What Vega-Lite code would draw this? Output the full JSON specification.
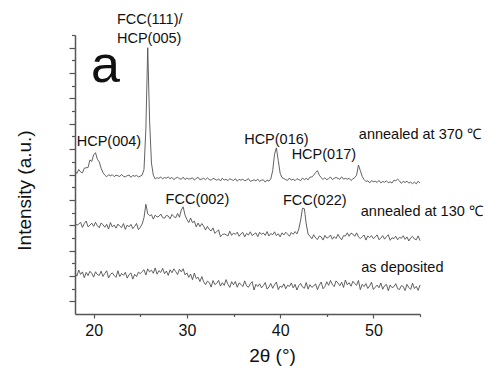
{
"$schema":"https://vega.github.io/schema/vega-lite/v6.json",
"width":345,"height":279,
"autosize":"none",
"padding":{"left":75,"top":35,"right":67,"bottom":52},
"background":"white",
"config":{"view":{"stroke":null},"font":"Liberation Sans","axis":{"grid":false,"domainColor":"#555","tickColor":"#555","domainWidth":1.5,"tickWidth":1.2,"labelColor":"#111","titleColor":"#111","titleFontWeight":"normal"}},
"datasets":{
"xrd":[
{"x":18.0,"a":11.28,"b":7.19,"c":3.20},{"x":18.2,"a":11.08,"b":7.00,"c":2.99},{"x":18.4,"a":11.40,"b":7.09,"c":3.47},{"x":18.6,"a":11.20,"b":7.23,"c":3.12},{"x":18.8,"a":11.13,"b":6.83,"c":3.32},
{"x":19.0,"a":11.50,"b":7.13,"c":2.86},{"x":19.2,"a":11.53,"b":7.33,"c":3.28},{"x":19.4,"a":11.55,"b":6.87,"c":3.03},{"x":19.6,"a":12.15,"b":7.01,"c":3.37},{"x":19.8,"a":12.03,"b":7.16,"c":3.20},
{"x":20.0,"a":12.55,"b":6.91,"c":2.91},{"x":20.2,"a":12.72,"b":7.23,"c":3.33},{"x":20.4,"a":12.20,"b":6.96,"c":3.11},{"x":20.6,"a":12.00,"b":6.80,"c":3.04},{"x":20.8,"a":11.50,"b":7.18,"c":3.38},
{"x":21.0,"a":11.15,"b":7.03,"c":2.96},{"x":21.2,"a":10.95,"b":6.84,"c":3.20},{"x":21.4,"a":10.82,"b":7.07,"c":3.41},{"x":21.6,"a":10.98,"b":6.70,"c":2.84},{"x":21.8,"a":10.90,"b":7.21,"c":3.12},
{"x":22.0,"a":10.98,"b":6.87,"c":3.25},{"x":22.2,"a":10.83,"b":7.01,"c":3.04},{"x":22.4,"a":10.95,"b":6.77,"c":2.89},{"x":22.6,"a":10.90,"b":7.09,"c":3.41},{"x":22.8,"a":10.84,"b":6.93,"c":2.95},
{"x":23.0,"a":11.00,"b":6.81,"c":3.20},{"x":23.2,"a":10.85,"b":7.13,"c":3.05},{"x":23.4,"a":10.82,"b":6.67,"c":3.29},{"x":23.6,"a":10.91,"b":7.02,"c":2.83},{"x":23.8,"a":10.96,"b":6.87,"c":3.11},
{"x":24.0,"a":10.77,"b":7.07,"c":3.24},{"x":24.2,"a":10.93,"b":6.73,"c":2.75},{"x":24.4,"a":10.86,"b":6.91,"c":3.13},{"x":24.6,"a":10.93,"b":7.14,"c":2.95},{"x":24.8,"a":10.81,"b":6.65,"c":3.30},
{"x":25.0,"a":10.87,"b":6.84,"c":3.18},{"x":25.2,"a":10.95,"b":7.09,"c":3.35},{"x":25.4,"a":11.40,"b":7.60,"c":3.49},{"x":25.6,"a":14.60,"b":8.65,"c":3.07},{"x":25.8,"a":21.00,"b":7.90,"c":3.56},
{"x":26.0,"a":15.20,"b":7.75,"c":3.32},{"x":26.2,"a":11.90,"b":7.83,"c":3.46},{"x":26.4,"a":10.95,"b":7.48,"c":3.21},{"x":26.6,"a":10.65,"b":7.80,"c":3.63},{"x":26.8,"a":10.75,"b":7.65,"c":3.14},
{"x":27.0,"a":10.70,"b":7.70,"c":3.42},{"x":27.2,"a":10.80,"b":7.88,"c":3.28},{"x":27.4,"a":10.66,"b":7.60,"c":3.60},{"x":27.6,"a":10.76,"b":7.55,"c":3.18},{"x":27.8,"a":10.71,"b":7.78,"c":3.39},
{"x":28.0,"a":10.81,"b":7.73,"c":3.04},{"x":28.2,"a":10.67,"b":7.50,"c":3.49},{"x":28.4,"a":10.77,"b":7.85,"c":3.25},{"x":28.6,"a":10.59,"b":7.68,"c":3.56},{"x":28.8,"a":10.72,"b":7.58,"c":3.35},
{"x":29.0,"a":10.78,"b":7.93,"c":3.11},{"x":29.2,"a":10.67,"b":7.63,"c":3.53},{"x":29.4,"a":10.63,"b":8.20,"c":3.32},{"x":29.6,"a":10.79,"b":8.45,"c":3.57},{"x":29.8,"a":10.60,"b":7.80,"c":3.09},
{"x":30.0,"a":10.72,"b":7.45,"c":3.24},{"x":30.2,"a":10.64,"b":7.21,"c":2.89},{"x":30.4,"a":10.67,"b":7.57,"c":3.15},{"x":30.6,"a":10.74,"b":7.20,"c":2.70},{"x":30.8,"a":10.56,"b":7.32,"c":3.23},
{"x":31.0,"a":10.69,"b":6.87,"c":2.79},{"x":31.2,"a":10.78,"b":7.17,"c":2.90},{"x":31.4,"a":10.58,"b":6.89,"c":2.56},{"x":31.6,"a":10.64,"b":7.13,"c":2.95},{"x":31.8,"a":10.70,"b":6.92,"c":2.54},
{"x":32.0,"a":10.59,"b":6.62,"c":2.31},{"x":32.2,"a":10.73,"b":6.91,"c":2.59},{"x":32.4,"a":10.61,"b":6.67,"c":2.48},{"x":32.6,"a":10.54,"b":6.55,"c":2.12},{"x":32.8,"a":10.70,"b":6.79,"c":2.64},
{"x":33.0,"a":10.64,"b":6.36,"c":2.32},{"x":33.2,"a":10.55,"b":6.51,"c":2.42},{"x":33.4,"a":10.65,"b":6.63,"c":2.66},{"x":33.6,"a":10.49,"b":6.09,"c":2.20},{"x":33.8,"a":10.71,"b":6.26,"c":2.47},
{"x":34.0,"a":10.56,"b":6.32,"c":2.26},{"x":34.2,"a":10.62,"b":6.25,"c":2.71},{"x":34.4,"a":10.52,"b":6.15,"c":2.35},{"x":34.6,"a":10.66,"b":6.53,"c":2.10},{"x":34.8,"a":10.59,"b":6.20,"c":2.55},
{"x":35.0,"a":10.53,"b":6.38,"c":2.30},{"x":35.2,"a":10.67,"b":6.28,"c":2.57},{"x":35.4,"a":10.47,"b":6.45,"c":2.11},{"x":35.6,"a":10.62,"b":6.13,"c":2.45},{"x":35.8,"a":10.55,"b":6.33,"c":2.34},
{"x":36.0,"a":10.64,"b":6.43,"c":2.16},{"x":36.2,"a":10.49,"b":6.08,"c":2.61},{"x":36.4,"a":10.57,"b":6.35,"c":2.22},{"x":36.6,"a":10.67,"b":6.23,"c":2.11},{"x":36.8,"a":10.46,"b":6.48,"c":2.38},
{"x":37.0,"a":10.52,"b":6.18,"c":2.55},{"x":37.2,"a":10.58,"b":6.30,"c":1.89},{"x":37.4,"a":10.50,"b":6.40,"c":2.34},{"x":37.6,"a":10.63,"b":6.10,"c":2.17},{"x":37.8,"a":10.45,"b":6.45,"c":2.38},
{"x":38.0,"a":10.55,"b":6.28,"c":2.06},{"x":38.2,"a":10.58,"b":6.38,"c":2.24},{"x":38.4,"a":10.40,"b":6.20,"c":2.48},{"x":38.6,"a":10.56,"b":6.50,"c":1.96},{"x":38.8,"a":10.48,"b":6.15,"c":2.13},
{"x":39.0,"a":10.65,"b":6.35,"c":2.41},{"x":39.2,"a":11.30,"b":6.25,"c":2.03},{"x":39.4,"a":12.60,"b":6.48,"c":2.31},{"x":39.6,"a":13.10,"b":6.18,"c":2.52},{"x":39.8,"a":12.10,"b":6.33,"c":1.92},
{"x":40.0,"a":11.10,"b":6.08,"c":2.20},{"x":40.2,"a":10.75,"b":6.40,"c":2.10},{"x":40.4,"a":10.68,"b":6.23,"c":2.38},{"x":40.6,"a":10.59,"b":6.45,"c":1.99},{"x":40.8,"a":10.54,"b":6.30,"c":2.27},
{"x":41.0,"a":10.72,"b":6.13,"c":2.17},{"x":41.2,"a":10.56,"b":6.43,"c":2.45},{"x":41.4,"a":10.63,"b":6.28,"c":2.06},{"x":41.6,"a":10.51,"b":6.50,"c":2.34},{"x":41.8,"a":10.67,"b":6.32,"c":1.89},
{"x":42.0,"a":10.60,"b":6.70,"c":2.24},{"x":42.2,"a":10.52,"b":7.40,"c":2.41},{"x":42.4,"a":10.72,"b":8.35,"c":2.13},{"x":42.6,"a":10.59,"b":8.30,"c":2.03},{"x":42.8,"a":10.70,"b":7.10,"c":2.48},
{"x":43.0,"a":10.58,"b":6.30,"c":1.96},{"x":43.2,"a":10.79,"b":6.13,"c":2.31},{"x":43.4,"a":10.80,"b":5.93,"c":2.10},{"x":43.6,"a":10.95,"b":6.25,"c":2.20},{"x":43.8,"a":11.15,"b":6.00,"c":2.38},
{"x":44.0,"a":11.30,"b":5.88,"c":1.92},{"x":44.2,"a":10.95,"b":6.15,"c":2.27},{"x":44.4,"a":10.75,"b":6.08,"c":2.52},{"x":44.6,"a":10.61,"b":5.83,"c":1.99},{"x":44.8,"a":10.74,"b":6.20,"c":2.17},
{"x":45.0,"a":10.59,"b":5.98,"c":2.54},{"x":45.2,"a":10.68,"b":6.05,"c":2.26},{"x":45.4,"a":10.80,"b":6.23,"c":2.65},{"x":45.6,"a":10.60,"b":5.90,"c":2.33},{"x":45.8,"a":10.70,"b":6.10,"c":2.16},
{"x":46.0,"a":10.77,"b":5.95,"c":2.61},{"x":46.2,"a":10.69,"b":6.28,"c":2.44},{"x":46.4,"a":10.62,"b":6.03,"c":2.23},{"x":46.6,"a":10.82,"b":5.85,"c":2.51},{"x":46.8,"a":10.63,"b":6.18,"c":2.09},
{"x":47.0,"a":10.70,"b":6.15,"c":2.68},{"x":47.2,"a":10.63,"b":6.40,"c":2.30},{"x":47.4,"a":10.70,"b":6.13,"c":2.47},{"x":47.6,"a":10.53,"b":6.38,"c":2.19},{"x":47.8,"a":10.65,"b":6.30,"c":2.58},
{"x":48.0,"a":10.75,"b":6.13,"c":2.40},{"x":48.2,"a":10.95,"b":6.40,"c":2.26},{"x":48.4,"a":11.75,"b":6.08,"c":2.65},{"x":48.6,"a":11.30,"b":5.95,"c":1.92},{"x":48.8,"a":10.85,"b":6.10,"c":2.34},
{"x":49.0,"a":10.60,"b":6.23,"c":2.16},{"x":49.2,"a":10.45,"b":5.83,"c":2.40},{"x":49.4,"a":10.50,"b":6.15,"c":2.01},{"x":49.6,"a":10.34,"b":6.03,"c":2.22},{"x":49.8,"a":10.52,"b":6.18,"c":2.50},
{"x":50.0,"a":10.43,"b":5.94,"c":1.93},{"x":50.2,"a":10.47,"b":6.07,"c":2.11},{"x":50.4,"a":10.38,"b":6.24,"c":2.28},{"x":50.6,"a":10.53,"b":5.86,"c":2.07},{"x":50.8,"a":10.34,"b":5.98,"c":2.45},
{"x":51.0,"a":10.45,"b":6.18,"c":1.95},{"x":51.2,"a":10.39,"b":5.90,"c":2.23},{"x":51.4,"a":10.50,"b":6.10,"c":2.33},{"x":51.6,"a":10.35,"b":6.25,"c":1.84},{"x":51.8,"a":10.42,"b":5.81,"c":2.29},
{"x":52.0,"a":10.33,"b":6.01,"c":2.08},{"x":52.2,"a":10.55,"b":5.94,"c":2.15},{"x":52.4,"a":10.51,"b":6.13,"c":2.39},{"x":52.6,"a":10.63,"b":5.85,"c":2.00},{"x":52.8,"a":10.50,"b":6.05,"c":1.93},
{"x":53.0,"a":10.31,"b":5.97,"c":2.24},{"x":53.2,"a":10.45,"b":6.17,"c":2.17},{"x":53.4,"a":10.37,"b":5.89,"c":1.85},{"x":53.6,"a":10.48,"b":6.08,"c":2.34},{"x":53.8,"a":10.32,"b":5.76,"c":2.09},
{"x":54.0,"a":10.40,"b":6.01,"c":1.94},{"x":54.2,"a":10.28,"b":6.12,"c":2.43},{"x":54.4,"a":10.40,"b":5.92,"c":2.01},{"x":54.6,"a":10.26,"b":5.85,"c":2.18},{"x":54.8,"a":10.47,"b":6.16,"c":1.86},
{"x":55.0,"a":10.32,"b":5.79,"c":2.28}
],
"peaks":[
{"x":21.64,"y":13.56,"t":"HCP(004)"},
{"x":39.6,"y":13.72,"t":"HCP(016)"},
{"x":44.69,"y":12.5,"t":"HCP(017)"},
{"x":31.13,"y":8.99,"t":"FCC(002)"},
{"x":43.72,"y":8.9,"t":"FCC(022)"}
],
"notes":[
{"x":22.5,"y":23.15,"t":"FCC(111)/"},
{"x":22.5,"y":21.67,"t":"HCP(005)"},
{"x":48.44,"y":14.12,"t":"annealed at 370 ℃"},
{"x":48.65,"y":8.04,"t":"annealed at 130 ℃"},
{"x":48.7,"y":3.6,"t":"as deposited"}
],
"panel":[{"x":21.27,"y":18.3,"t":"a"}]
},
"layer":[
{
"data":{"name":"xrd"},
"transform":[{"fold":["a","b","c"],"as":["series","intensity"]}],
"mark":{"type":"line","color":"#505050","strokeWidth":0.9},
"encoding":{
"x":{"field":"x","type":"quantitative","scale":{"domain":[18,55],"nice":false,"zero":false},
"axis":{"orient":"bottom","values":[20,30,40,50],"tickSize":4,"labelFontSize":16,"labelPadding":4,"title":"2θ (°)","titleFontSize":19,"titleX":197,"titleY":41,"titleBaseline":"middle","titleAlign":"center"}},
"y":{"field":"intensity","type":"quantitative","scale":{"domain":[0,22],"nice":false,"zero":false},
"axis":{"orient":"left","values":[1,3,5,7,9,11,13,15,17,19,21],"tickSize":6,"labels":false,"title":"Intensity (a.u.)","titleFontSize":19,"titleX":-51,"titleY":155,"titleAngle":-90,"titleBaseline":"middle","titleAlign":"center"}},
"detail":{"field":"series"}
}
},
{
"data":{"name":"peaks"},
"mark":{"type":"text","align":"center","baseline":"middle","fontSize":14.5,"color":"#111"},
"encoding":{
"x":{"field":"x","type":"quantitative","scale":{"domain":[18,55],"nice":false,"zero":false},
"axis":{"orient":"bottom","values":[25,35,45,55],"tickSize":2.5,"labels":false,"domain":false,"title":null}},
"y":{"field":"y","type":"quantitative","scale":{"domain":[0,22],"nice":false,"zero":false},
"axis":{"orient":"left","values":[2,4,6,8,10,12,14,16,18,20,22],"tickSize":3.5,"labels":false,"domain":false,"title":null}},
"text":{"field":"t"}
}
},
{
"data":{"name":"notes"},
"mark":{"type":"text","align":"left","baseline":"middle","fontSize":14.5,"color":"#111"},
"encoding":{
"x":{"field":"x","type":"quantitative","scale":{"domain":[18,55],"nice":false,"zero":false},"axis":null},
"y":{"field":"y","type":"quantitative","scale":{"domain":[0,22],"nice":false,"zero":false},"axis":null},
"text":{"field":"t"}
}
},
{
"data":{"name":"panel"},
"mark":{"type":"text","align":"center","baseline":"alphabetic","fontSize":52,"color":"#111"},
"encoding":{
"x":{"field":"x","type":"quantitative","scale":{"domain":[18,55],"nice":false,"zero":false},"axis":null},
"y":{"field":"y","type":"quantitative","scale":{"domain":[0,22],"nice":false,"zero":false},"axis":null},
"text":{"field":"t"}
}
}
],
"resolve":{"axis":{"x":"independent","y":"independent"}}
}
